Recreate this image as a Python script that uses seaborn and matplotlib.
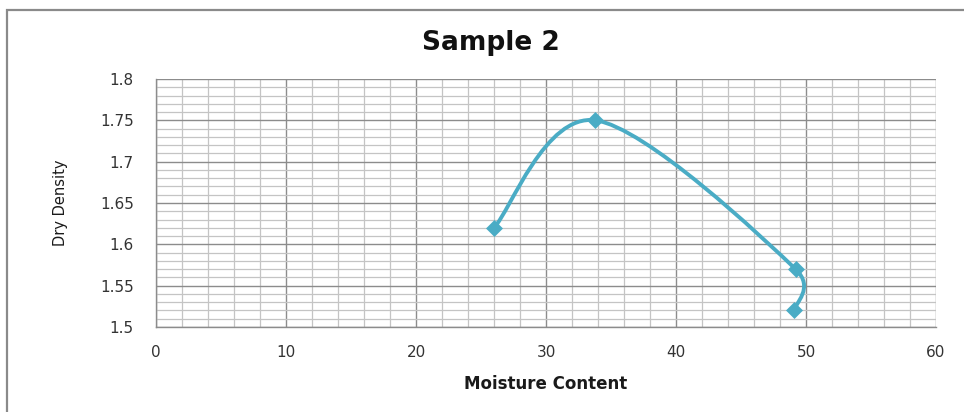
import numpy as np
import pandas as pd
import matplotlib
matplotlib.use("Agg")
import matplotlib.pyplot as plt
from matplotlib.path import Path
from matplotlib.patches import PathPatch, Rectangle
from matplotlib.ticker import MultipleLocator
import seaborn as sns

# Data
moisture = [26.0, 33.8, 49.2, 49.1]
density = [1.62, 1.75, 1.57, 1.52]
x_ticks = [0, 10, 20, 30, 40, 50, 60]
y_ticks = [1.5, 1.55, 1.6, 1.65, 1.7, 1.75, 1.8]
y_ticklabels = ["1.5", "1.55", "1.6", "1.65", "1.7", "1.75", "1.8"]
title = "Sample 2"
xlabel = "Moisture Content"
ylabel = "Dry Density"

df = pd.DataFrame({"x": moisture, "y": density})

sns.set_theme(style="white")
plt.rcParams['font.family'] = ['DejaVu Sans']

W, H = 964, 412
fig = plt.figure(figsize=(W / 100, H / 100), dpi=100)
ax_l, ax_r, ax_t, ax_b = 156, 936, 79, 327
ax = fig.add_axes([ax_l / W, 1 - ax_b / H, (ax_r - ax_l) / W, (ax_b - ax_t) / H])

xmin, xmax, ymin, ymax = 0, 60, 1.5, 1.8
ax.set_xlim(xmin, xmax)
ax.set_ylim(ymin, ymax)

color = "#4aacc5"

# smoothed line (Excel-like Bezier smoothing), computed in screen-proportional space
sx = (ax_r - ax_l) / (xmax - xmin)
sy = (ax_b - ax_t) / (ymax - ymin)
P = np.column_stack([np.array(moisture) * sx, np.array(density) * sy])
n = len(P)
k = 0.66
verts = [tuple(P[0])]
codes = [Path.MOVETO]
for i in range(n - 1):
    p0 = P[i - 1] if i > 0 else P[i]
    p1 = P[i]
    p2 = P[i + 1]
    p3 = P[i + 2] if i + 2 < n else P[i + 1]
    seg = np.linalg.norm(p2 - p1)
    t1 = (p2 - p0) / 6.0
    t2 = (p3 - p1) / 6.0
    if np.linalg.norm(t1) > k * seg:
        t1 = t1 / np.linalg.norm(t1) * k * seg
    if np.linalg.norm(t2) > k * seg:
        t2 = t2 / np.linalg.norm(t2) * k * seg
    verts += [tuple(p1 + t1), tuple(p2 - t2), tuple(p2)]
    codes += [Path.CURVE4] * 3
verts = [(vx / sx, vy / sy) for vx, vy in verts]
ax.add_patch(PathPatch(Path(verts, codes), facecolor="none", edgecolor=color,
                       lw=2.8, zorder=3, capstyle="round", joinstyle="round"))

sns.scatterplot(data=df, x="x", y="y", ax=ax, marker="D", s=75, color=color,
                edgecolor=color, linewidth=0, zorder=4, legend=False)

ax.set_xticks(x_ticks)
ax.set_yticks(y_ticks)
ax.set_xticklabels([str(v) for v in x_ticks])
ax.set_yticklabels(y_ticklabels)
ax.xaxis.set_minor_locator(MultipleLocator(2))
ax.yaxis.set_minor_locator(MultipleLocator(0.01))

ax.grid(which="major", color="#8c8c8c", lw=1.0, zorder=1)
ax.grid(which="minor", color="#c4c4c4", lw=0.9, zorder=0.5)
ax.set_axisbelow(True)

for s in ["top", "right"]:
    ax.spines[s].set_visible(False)
for s in ["left", "bottom"]:
    ax.spines[s].set_color("#8c8c8c")
    ax.spines[s].set_linewidth(1.0)

ax.tick_params(axis="both", which="major", direction="out", length=5, width=1,
               color="#8c8c8c", labelsize=11, labelcolor="#333333")
ax.tick_params(axis="x", which="major", pad=8)
ax.tick_params(axis="y", which="major", pad=11)
ax.tick_params(which="minor", length=0)

ax.set_xlabel(xlabel, fontsize=12, fontweight="bold", color="#1a1a1a", labelpad=11)
ax.set_ylabel(ylabel, fontsize=10.5, color="#1a1a1a", labelpad=23,
              family=["Liberation Sans Narrow", "DejaVu Sans"])
fig.text(491 / W, 1 - 43 / H, title, ha="center", va="center", fontsize=19,
         fontweight="bold", color="#111111")

# chart-area frame (left and top edges visible)
fig.patches.append(Rectangle((7 / W, -0.1), 1.2, 1 - 10 / H + 0.1, transform=fig.transFigure,
                             fill=False, edgecolor="#8a8a8a", lw=1.6, zorder=0))

fig.savefig("out.png", dpi=100)
